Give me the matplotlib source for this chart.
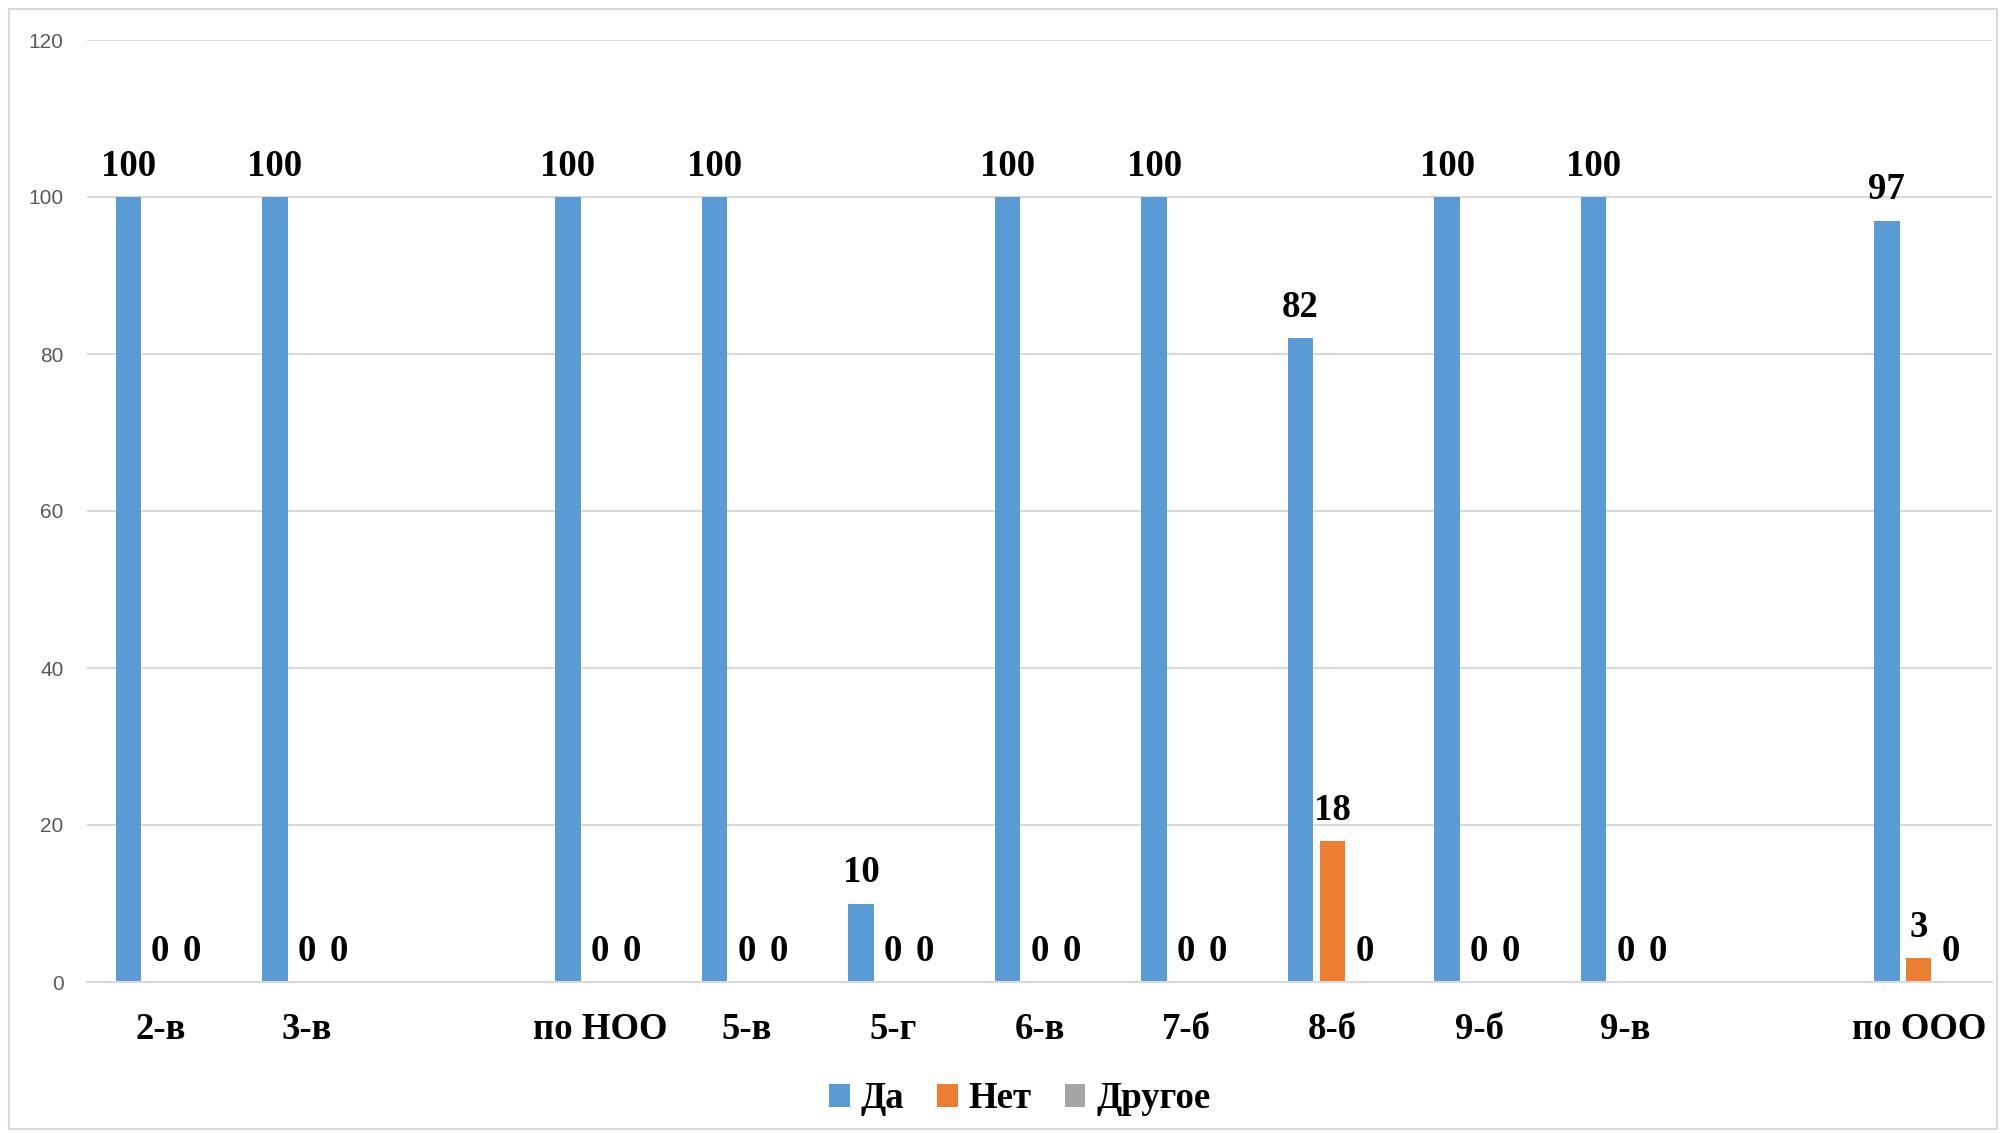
import numpy as np
import matplotlib
matplotlib.use("Agg")
import matplotlib.pyplot as plt
from matplotlib.patches import Rectangle

categories = ["2-в", "3-в", "", "по НОО", "5-в", "5-г", "6-в", "7-б", "8-б", "9-б", "9-в", "", "по ООО"]
da = [100, 100, np.nan, 100, 100, 10, 100, 100, 82, 100, 100, np.nan, 97]
net = [0, 0, np.nan, 0, 0, 0, 0, 0, 18, 0, 0, np.nan, 3]
drugoe = [0, 0, np.nan, 0, 0, 0, 0, 0, 0, 0, 0, np.nan, 0]
series_names = ["Да", "Нет", "Другое"]
colors = ["#5B9BD5", "#ED7D31", "#A5A5A5"]
yticks = [0, 20, 40, 60, 80, 100, 120]

W, H, DPI = 2006, 1133, 100
fig = plt.figure(figsize=(W / DPI, H / DPI), dpi=DPI)
ax = fig.add_axes([87 / W, 1 - 982 / H, (1992 - 87) / W, (982 - 40) / H])

serif = "Liberation Serif"
x = np.arange(len(categories))
step = 0.218
width = 0.174
handles = []
for i, (vals, name, c) in enumerate(zip([da, net, drugoe], series_names, colors)):
    xs = x + (i - 1) * step
    bars = ax.bar(xs, vals, width=width, color=c, label=name, zorder=3)
    handles.append(bars)
    for xi, v in zip(xs, vals):
        if np.isnan(v):
            continue
        ax.annotate(f"{v:g}", (xi, v), xytext=(0, 9.5), textcoords="offset points",
                    ha="center", va="bottom", fontsize=26.5, fontweight="bold",
                    family=serif, color="black")

ax.set_xlim(-0.5, len(categories) - 0.5)
ax.set_ylim(0, 120)
ax.set_yticks(yticks)
ax.set_yticklabels([str(t) for t in yticks], fontsize=15, color="#595959", family="Liberation Sans")
ax.set_xticks(x)
ax.set_xticklabels(categories, fontsize=26.5, fontweight="bold", family=serif)
ax.tick_params(axis="x", length=0, pad=21.5)
ax.tick_params(axis="y", length=0, pad=17)
ax.grid(axis="y", color="#D9D9D9", linewidth=1.5, zorder=0)
for s in ["top", "right", "left"]:
    ax.spines[s].set_visible(False)
ax.spines["bottom"].set_color("#D9D9D9")
ax.spines["bottom"].set_linewidth(1.5)
ax.spines["bottom"].set_zorder(4)

leg = fig.legend(handles=handles, labels=series_names, loc="center",
                 bbox_to_anchor=(1020 / W, 1 - 1099 / H), ncol=3, frameon=False,
                 prop={"family": serif, "weight": "bold", "size": 26.5},
                 handlelength=0.55, handleheight=0.55, handletextpad=0.3, columnspacing=0.9)

fig.patches.append(Rectangle((9 / W, 4 / H), (1997 - 9) / W, (1124 - 4) / H,
                             transform=fig.transFigure, fill=False,
                             edgecolor="#D9D9D9", linewidth=1.5))

fig.savefig("out.png", dpi=DPI)
